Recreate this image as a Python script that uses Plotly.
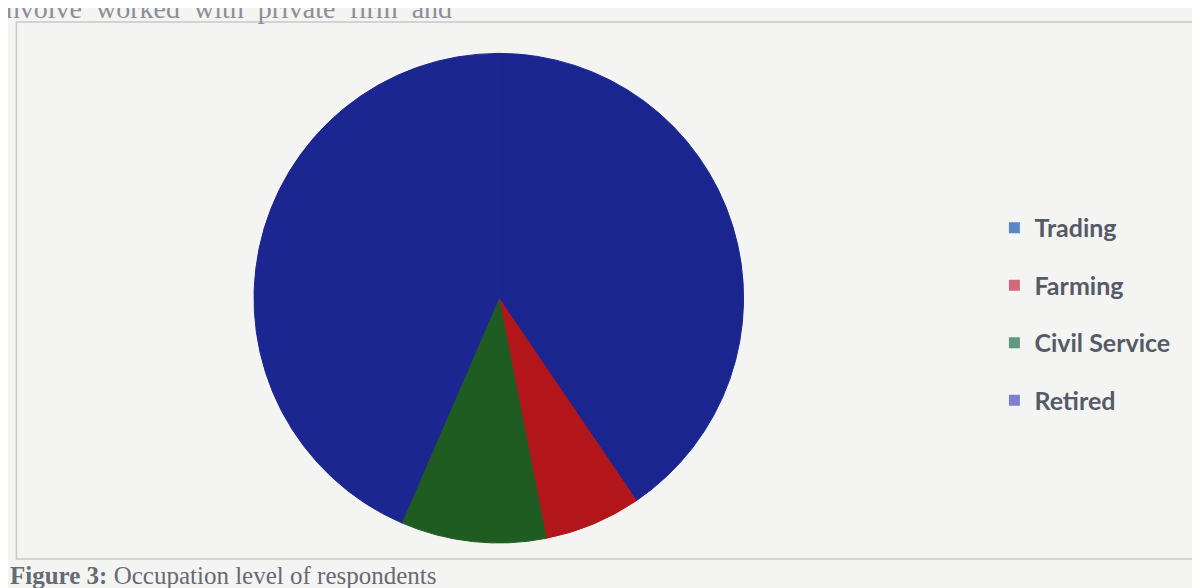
import plotly.graph_objects as go

categories = ["Trading", "Farming", "Civil Service", "Retired"]
values = [40.5, 6.4, 9.6, 43.5]
slice_colors = ["#1a2590", "#b3161a", "#1f5c22", "#1b2690"]
legend_colors = ["#5b86c6", "#d2697a", "#5f9a7c", "#7f7fd2"]

fig = go.Figure()
fig.add_trace(go.Pie(
    labels=categories, values=values, sort=False, direction="clockwise",
    rotation=0, textinfo="none", hoverinfo="label+percent",
    marker=dict(colors=slice_colors, line=dict(width=1, color=slice_colors)),
    domain=dict(x=[0.205, 0.613], y=[0.090, 0.923]),
    showlegend=False,
))
for name, col in zip(categories, legend_colors):
    fig.add_trace(go.Scatter(
        x=[None], y=[None], mode="markers", name=name, legendgroup=name,
        marker=dict(symbol="square", size=11, color=col),
    ))

fig.update_layout(
    width=1200, height=588,
    margin=dict(l=0, r=0, t=0, b=0),
    paper_bgcolor="#f4f4f2", plot_bgcolor="rgba(0,0,0,0)",
    xaxis=dict(visible=False), yaxis=dict(visible=False),
    legend=dict(x=0.822, y=0.665, xanchor="left", yanchor="top",
                font=dict(family="Lato", size=25, color="#555b66", weight="bold"),
                tracegroupgap=22, itemwidth=30, bgcolor="rgba(0,0,0,0)"),
    shapes=[dict(type="rect", xref="paper", yref="paper",
                 x0=0.007, x1=1.01, y0=(588 - 551) / 588, y1=(588 - 14) / 588,
                 line=dict(color="#c8c8c8", width=1.5))],
    annotations=[
        dict(text="involve  worked  with  private  firm  and", xref="paper", yref="paper",
             x=-0.01, y=1.0, xanchor="left", yanchor="middle", showarrow=False,
             font=dict(family="Liberation Serif", size=28, color="#8a8f99")),
        dict(text="<b>Figure 3:</b> Occupation level of respondents", xref="paper", yref="paper",
             x=0.0, y=(588 - 567) / 588, xanchor="left", yanchor="middle", showarrow=False,
             font=dict(family="Liberation Serif", size=25, color="#666a73")),
    ],
)
fig.write_html("out.html")
